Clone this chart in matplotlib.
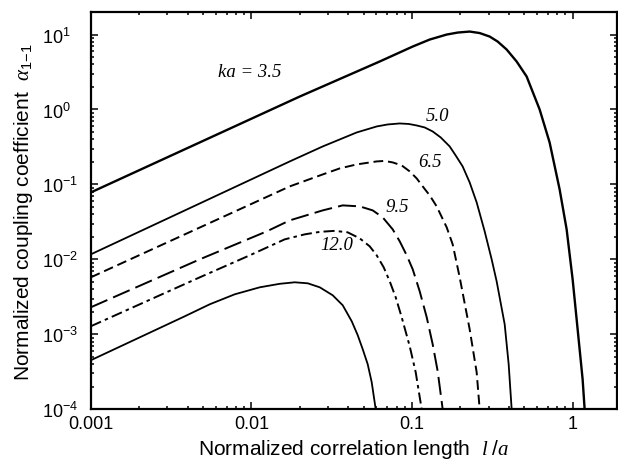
import numpy as np
import matplotlib.pyplot as plt
from matplotlib.ticker import LogLocator, NullFormatter, FixedLocator, FixedFormatter

plt.rcParams['font.family'] = ['Liberation Sans', 'DejaVu Sans']
plt.rcParams['mathtext.fontset'] = 'custom'
plt.rcParams['mathtext.rm'] = 'Liberation Sans'
plt.rcParams['mathtext.it'] = 'Liberation Serif:italic'
plt.rcParams['lines.scale_dashes'] = False

# values (l/a , alpha)
x_35 = [0.001, 0.0200, 0.0628, 0.1009, 0.1287, 0.1642, 0.1922, 0.2282, 0.2634, 0.3040, 0.3409,
        0.3879, 0.4476, 0.5165, 0.6223, 0.7180, 0.8288, 0.9164, 0.9986, 1.0728, 1.1523, 1.1861]
y_35 = [0.0782, 1.490, 4.365, 6.918, 8.577, 10.0, 10.63, 10.96, 10.47, 9.404, 8.065,
        6.310, 4.365, 2.754, 1.0, 0.3631, 0.0858, 0.0251, 0.00541, 0.001166, 0.000251, 0.0001]

x_50 = [0.001, 0.01731, 0.02778, 0.04520, 0.06020, 0.07047, 0.08374, 0.09524, 0.1068, 0.1198,
        0.1343, 0.1507, 0.1714, 0.1867, 0.2064, 0.2282, 0.2523, 0.2830, 0.3128, 0.3360,
        0.3770, 0.3992, 0.4167]
y_50 = [0.01166, 0.2026, 0.3211, 0.4935, 0.5934, 0.6310, 0.6506, 0.6407, 0.6118, 0.5754,
        0.5088, 0.4232, 0.3211, 0.2436, 0.1738, 0.1063, 0.05754, 0.02362, 0.01, 0.005088,
        0.001360, 0.000398, 0.0001]

x_65 = [0.001, 0.01731, 0.02778, 0.03543, 0.04520, 0.06020, 0.06753, 0.07572, 0.08615, 0.09663,
        0.1068, 0.1164, 0.1287, 0.1422, 0.1642, 0.1789, 0.1978, 0.2282, 0.2523, 0.2634]
y_65 = [0.005754, 0.09404, 0.1359, 0.1634, 0.1848, 0.2026, 0.2057, 0.1965, 0.1792, 0.1491,
        0.1202, 0.09404, 0.07134, 0.05088, 0.02671, 0.01585, 0.005754, 0.001166, 0.000311, 0.0001]

x_95 = [0.001, 0.004768, 0.01245, 0.01731, 0.02778, 0.03699, 0.04720, 0.05686, 0.06561, 0.07572,
        0.08374, 0.09256, 0.1009, 0.1115, 0.1233, 0.1343, 0.1443, 0.1550]
y_95 = [0.002291, 0.01, 0.02362, 0.03311, 0.04500, 0.05248, 0.05088, 0.04500, 0.03631, 0.02512,
        0.01738, 0.01131, 0.007356, 0.003743, 0.001685, 0.000736, 0.000321, 0.0001]

x_120 = [0.001, 0.004768, 0.009759, 0.01611, 0.02146, 0.02661, 0.03298, 0.03973, 0.04720, 0.05446,
         0.06020, 0.06655, 0.07255, 0.07905, 0.08615, 0.09663, 0.1053, 0.1147]
y_120 = [0.001279, 0.005754, 0.01131, 0.01848, 0.02154, 0.02326, 0.02399, 0.02291, 0.01905, 0.01491,
         0.01131, 0.007822, 0.005088, 0.003114, 0.001685, 0.000692, 0.000311, 0.0001]

x_bot = [0.001, 0.003845, 0.005500, 0.007872, 0.01126, 0.01500, 0.01860, 0.02240, 0.02661, 0.03205,
         0.03699, 0.04208, 0.04587, 0.04927, 0.05292, 0.05604, 0.05934]
y_bot = [0.000450, 0.001738, 0.002512, 0.003415, 0.004232, 0.004714, 0.004936, 0.004786, 0.004232,
         0.003311, 0.002436, 0.001491, 0.000970, 0.000631, 0.000398, 0.000229, 0.0001]

labels = ['ka = 3.5', '5.0', '6.5', '9.5', '12.0']
label_x = [0.00976, 0.1443, 0.1287, 0.0802, 0.03395]
label_y = [3.21, 0.832, 0.2026, 0.05088, 0.01585]

xticks = [0.001, 0.01, 0.1, 1]
xticklabels = ['0.001', '0.01', '0.1', '1']

fig = plt.figure(figsize=(6.18, 4.64), dpi=100)
ax = fig.add_axes([0.147, 0.116, 0.851, 0.856])

ax.plot(x_35, y_35, color='black', lw=1.7)
ax.plot(x_50, y_50, color='black', lw=1.3)
ax.plot(x_65, y_65, color='black', lw=1.4, dashes=(7, 3.5))
ax.plot(x_95, y_95, color='black', lw=1.4, dashes=(13, 4.5))
ax.plot(x_120, y_120, color='black', lw=1.4, dashes=(8, 3, 2.5, 3))
ax.plot(x_bot, y_bot, color='black', lw=1.3)

for t, lx, ly in zip(labels, label_x, label_y):
    ax.text(lx, ly, t, family='Liberation Serif', style='italic', fontsize=13.5,
            ha='center', va='center')

ax.set_xscale('log')
ax.set_yscale('log')
ax.set_xlim(0.001, 1.88)
ax.set_ylim(1e-4, 20)

ax.xaxis.set_major_locator(FixedLocator(xticks))
ax.xaxis.set_major_formatter(FixedFormatter(xticklabels))
ax.xaxis.set_minor_locator(LogLocator(base=10, subs=np.arange(2, 10)))
ax.xaxis.set_minor_formatter(NullFormatter())
ax.yaxis.set_major_locator(LogLocator(base=10, numticks=10))
ax.yaxis.set_minor_locator(LogLocator(base=10, subs=np.arange(2, 10), numticks=10))
ax.yaxis.set_minor_formatter(NullFormatter())

ax.tick_params(which='both', direction='in', top=True, right=True, width=1.1)
ax.tick_params(which='major', length=5)
ax.tick_params(which='minor', length=2.5)
ax.tick_params(axis='x', labelsize=13, pad=4.5)
ax.tick_params(axis='y', labelsize=13, pad=35)
for lab in ax.get_yticklabels():
    lab.set_ha('left')

for s in ax.spines.values():
    s.set_linewidth(1.6)

ax.set_xlabel(r'Normalized correlation length  $\mathit{l\ /a}$', fontsize=15, labelpad=3)
ax.set_ylabel(r'Normalized coupling coefficient  $\alpha_{1\!-\!1}$', fontsize=15, labelpad=5)

fig.savefig('out.png', dpi=100)
